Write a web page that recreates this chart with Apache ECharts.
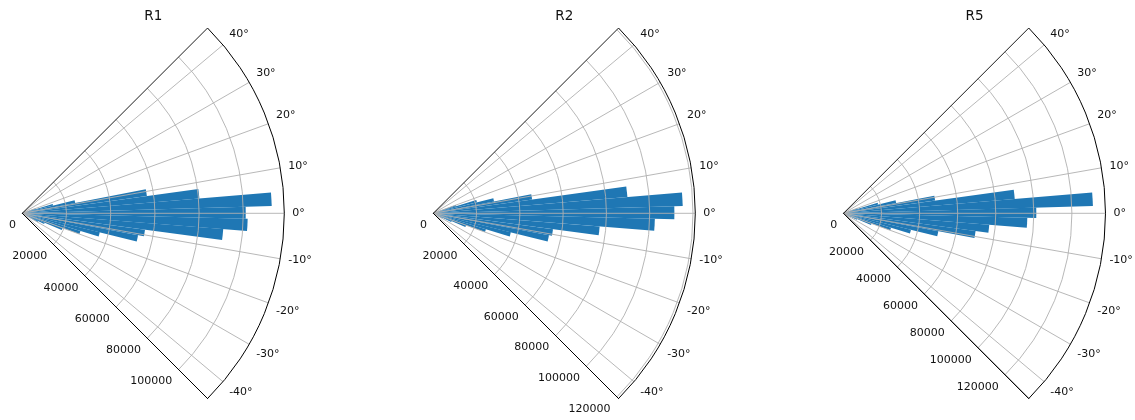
<!DOCTYPE html>
<html>
<head>
<meta charset="utf-8">
<script src="https://cdn.jsdelivr.net/npm/echarts@6/dist/echarts.min.js"></script>
<style>
  html, body { margin: 0; padding: 0; background: #ffffff; }
  #chart { width: 1135px; height: 420px; }
</style>
</head>
<body>
<div id="chart"></div>
<script>
// Panel titles
const panelTitles = ['R1', 'R2', 'R5'];

// Histogram bin edges (degrees), shared by all panels
const binEdges = [-29.3, -26.2, -23.1, -20.0, -16.9, -13.8, -10.7, -7.6, -4.5,
                  -1.4, 1.7, 4.8, 7.9, 11.0, 14.1, 17.2, 20.3];

// Counts per bin
const countsR1 = [8000, 11000, 19400, 27500, 36100, 53300, 56000, 91200, 102000,
                  101100, 112900, 80400, 56900, 24400, 14400, 6300];
const countsR2 = [4600, 9200, 16100, 25400, 36900, 54400, 55800, 77100, 102400,
                  111400, 115300, 90000, 46100, 28600, 20800, 11100];
const countsR5 = [4200, 7800, 15700, 26100, 36500, 50700, 70000, 76800, 96600,
                  101300, 131100, 90300, 48600, 28200, 18800, 7800];

// Axis settings
const angleMin = -45;
const angleMax = 45;
const angleLabelStep = 10;
const radiusStep = 20000;

const panelCounts = [countsR1, countsR2, countsR5];

// Layout (pixels)
const centers = [[22.3, 213.3], [433.3, 213.3], [843.5, 213.3]];
const plotRadius = 262;
const titleY = 16;

const FONT = 'DejaVu Sans';
const BAR = '#1f77b4';
const GRID = '#b0b0b0';
const SPINE = '#000000';
const TEXT = '#111111';
const NONE = 'rgba(0,0,0,0)';

// one colour per angle tick (step 5): spines at the ends, grey every 10 degrees
function angleGridColours() {
  const out = [];
  for (let v = angleMin; v <= angleMax; v += 5) {
    if (v === angleMin || v === angleMax) out.push(SPINE);
    else if (v % angleLabelStep === 0) out.push(GRID);
    else out.push(NONE);
  }
  return out;
}

// one colour per radius tick; the extra tick at the outer edge stays hidden
function radiusGridColours(max) {
  const out = [];
  for (let v = 0; v <= max; v += radiusStep) out.push(GRID);
  if (max % radiusStep !== 0) out.push(NONE);
  return out;
}

// wedge from the centre out to the bin count, spanning the bin's angles
function renderWedge(params, api) {
  const cs = params.coordSys;
  const lo = api.value(0), hi = api.value(1), v = api.value(2);
  const a = api.coord([v, lo]);
  const b = api.coord([v, hi]);
  const r = Math.hypot(a[0] - cs.cx, a[1] - cs.cy);
  const t1 = Math.atan2(a[1] - cs.cy, a[0] - cs.cx);
  const t2 = Math.atan2(b[1] - cs.cy, b[0] - cs.cx);
  return {
    type: 'sector',
    shape: {
      cx: cs.cx, cy: cs.cy, r0: 0, r: r,
      startAngle: Math.min(t1, t2), endAngle: Math.max(t1, t2), clockwise: true
    },
    style: { fill: BAR }
  };
}

const polar = [], angleAxis = [], radiusAxis = [], series = [], graphic = [];

panelCounts.forEach((counts, i) => {
  const rMax = Math.max(...counts) * 1.05;

  polar.push({ center: centers[i], radius: plotRadius });

  angleAxis.push({
    polarIndex: i,
    type: 'value',
    min: angleMin,
    max: angleMax,
    interval: 5,
    startAngle: angleMin,
    endAngle: angleMax,
    clockwise: false,
    z: 10,
    axisLine: { show: true, lineStyle: { color: SPINE, width: 1 } },
    axisTick: { show: false },
    axisLabel: {
      margin: 8,
      fontFamily: FONT, fontSize: 11, color: TEXT,
      formatter: v => (v % angleLabelStep === 0 && v !== angleMin && v !== angleMax) ? v + '°' : ''
    },
    splitLine: { show: true, lineStyle: { color: angleGridColours(), width: 0.9 } }
  });

  radiusAxis.push({
    polarIndex: i,
    type: 'value',
    min: 0,
    max: rMax,
    interval: radiusStep,
    z: 10,
    axisLine: { show: true, lineStyle: { color: SPINE, width: 1 } },
    axisTick: { show: false },
    axisLabel: {
      margin: -9,
      align: 'right',
      verticalAlign: 'top',
      fontFamily: FONT, fontSize: 11, color: TEXT,
      formatter: v => (v % radiusStep === 0 ? String(v) : '')
    },
    splitLine: { show: true, lineStyle: { color: radiusGridColours(rMax), width: 0.9 } }
  });

  const data = counts.map((c, k) => [binEdges[k], binEdges[k + 1], c]);
  series.push({
    type: 'custom',
    coordinateSystem: 'polar',
    polarIndex: i,
    encode: { radius: 2, angle: [0, 1] },
    data: data,
    renderItem: renderWedge,
    z: 2
  });

  graphic.push({
    type: 'text',
    x: centers[i][0] + plotRadius / 2,
    y: titleY,
    style: {
      text: panelTitles[i],
      font: '13.5px "' + FONT + '"',
      fill: TEXT,
      textAlign: 'center',
      textVerticalAlign: 'middle'
    }
  });
});

const chart = echarts.init(document.getElementById('chart'), null, { renderer: 'canvas' });
chart.setOption({
  backgroundColor: '#ffffff',
  animation: false,
  polar: polar,
  angleAxis: angleAxis,
  radiusAxis: radiusAxis,
  series: series,
  graphic: graphic
});
</script>
</body>
</html>
